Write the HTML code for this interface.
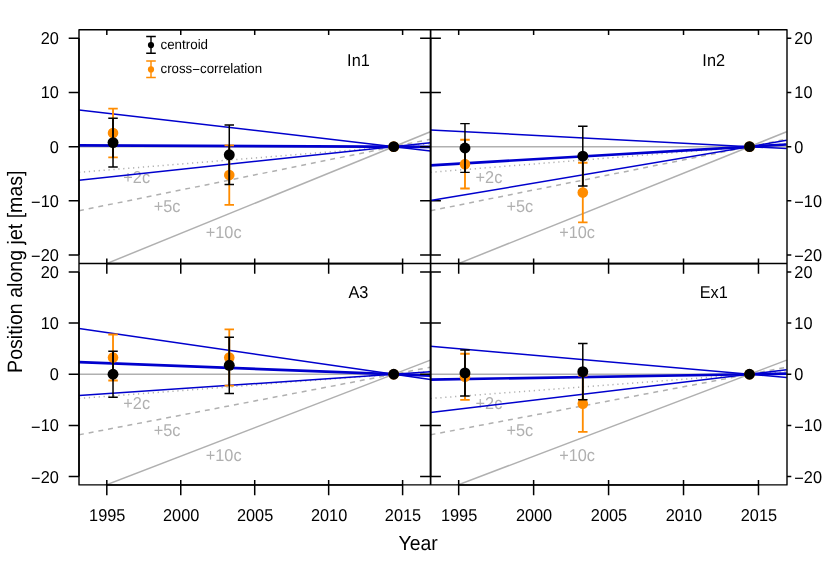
<!DOCTYPE html>
<html><head><meta charset="utf-8"><title>plot</title>
<style>html,body{margin:0;padding:0;background:#fff}svg{display:block;font-family:"Liberation Sans",sans-serif;text-rendering:geometricPrecision;will-change:transform}</style>
</head><body>
<svg width="830" height="564" viewBox="0 0 830 564">
<rect width="830" height="564" fill="#fff"/>
<defs>
<clipPath id="c0"><rect x="79.0" y="29.8" width="351.5" height="233.8"/></clipPath>
<clipPath id="c1"><rect x="430.5" y="29.8" width="356.5" height="233.8"/></clipPath>
<clipPath id="c2"><rect x="79.0" y="263.6" width="351.5" height="221.29999999999995"/></clipPath>
<clipPath id="c3"><rect x="430.5" y="263.6" width="356.5" height="221.29999999999995"/></clipPath>
</defs>
<g clip-path="url(#c0)">
<line x1="79.0" x2="430.5" y1="146.65" y2="146.65" stroke="#b0b0b0" stroke-width="1.5"/>
<line x1="79.00" y1="274.85" x2="430.41" y2="131.71" stroke="#b0b0b0" stroke-width="1.5"/>
<line x1="79.00" y1="210.75" x2="430.41" y2="139.18" stroke="#b0b0b0" stroke-width="1.5" stroke-dasharray="4.93 4.93"/>
<line x1="79.00" y1="172.29" x2="430.41" y2="143.66" stroke="#b0b0b0" stroke-width="1.5" stroke-dasharray="1.23 3.7"/>
<text transform="translate(136.68 182.89) scale(1.02 1.07)" font-size="16" text-anchor="middle" fill="#b0b0b0">+2c</text>
<text transform="translate(167.15 211.87) scale(1.02 1.07)" font-size="16" text-anchor="middle" fill="#b0b0b0">+5c</text>
<text transform="translate(223.65 238.42) scale(1.02 1.07)" font-size="16" text-anchor="middle" fill="#b0b0b0">+10c</text>
<line x1="79.00" y1="109.92" x2="430.41" y2="150.93" stroke="#0000cd" stroke-width="1.5"/>
<line x1="79.00" y1="145.30" x2="430.41" y2="146.81" stroke="#0000cd" stroke-width="2.7"/>
<line x1="79.00" y1="180.24" x2="430.41" y2="142.74" stroke="#0000cd" stroke-width="1.5"/>
<g stroke="#ff8c00" stroke-width="1.85" fill="none"><path d="M113.02 108.62V157.38" stroke-width="1.85"/><path d="M108.27 108.62H117.77M108.27 157.38H117.77"/></g><circle cx="113.02" cy="133.00" r="5.3" fill="#ff8c00"/>
<g stroke="#ff8c00" stroke-width="1.85" fill="none"><path d="M229.27 145.30V204.89" stroke-width="1.85"/><path d="M224.52 145.30H234.02M224.52 204.89H234.02"/></g><circle cx="229.27" cy="175.09" r="5.3" fill="#ff8c00"/>
<circle cx="393.73" cy="146.65" r="5.3" fill="#ff8c00"/>
<path d="M113.02 118.21V157.38" stroke="#1c0f00" stroke-width="1.75" fill="none"/>
<g stroke="#000" stroke-width="1.45" fill="none"><path d="M113.02 118.21V166.97" stroke-width="1.5"/><path d="M108.27 118.21H117.77M108.27 166.97H117.77"/></g><circle cx="113.02" cy="142.59" r="5.45" fill="#000"/>
<path d="M229.27 145.30V184.57" stroke="#1c0f00" stroke-width="1.75" fill="none"/>
<g stroke="#000" stroke-width="1.45" fill="none"><path d="M229.27 124.98V184.57" stroke-width="1.5"/><path d="M224.52 124.98H234.02M224.52 184.57H234.02"/></g><circle cx="229.27" cy="154.78" r="5.45" fill="#000"/>
<circle cx="393.73" cy="146.65" r="5.45" fill="#000"/>
</g>
<text transform="translate(358.45 66.07) scale(1.02 1.07)" font-size="16" text-anchor="middle">In1</text>
<path d="M430.5 255.00H440.9M430.5 200.83H440.9M430.5 92.47H440.9M430.5 38.30H440.9" stroke="#000" stroke-width="1.5" fill="none"/>
<g clip-path="url(#c1)">
<line x1="430.5" x2="787.0" y1="146.65" y2="146.65" stroke="#b0b0b0" stroke-width="1.5"/>
<line x1="430.50" y1="274.85" x2="786.66" y2="131.71" stroke="#b0b0b0" stroke-width="1.5"/>
<line x1="430.50" y1="210.75" x2="786.66" y2="139.18" stroke="#b0b0b0" stroke-width="1.5" stroke-dasharray="4.93 4.93"/>
<line x1="430.50" y1="172.29" x2="786.66" y2="143.66" stroke="#b0b0b0" stroke-width="1.5" stroke-dasharray="1.23 3.7"/>
<text transform="translate(488.96 182.89) scale(1.02 1.07)" font-size="16" text-anchor="middle" fill="#b0b0b0">+2c</text>
<text transform="translate(519.84 211.87) scale(1.02 1.07)" font-size="16" text-anchor="middle" fill="#b0b0b0">+5c</text>
<text transform="translate(577.10 238.42) scale(1.02 1.07)" font-size="16" text-anchor="middle" fill="#b0b0b0">+10c</text>
<line x1="430.50" y1="129.96" x2="786.66" y2="148.59" stroke="#0000cd" stroke-width="1.5"/>
<line x1="430.50" y1="165.29" x2="786.66" y2="144.48" stroke="#0000cd" stroke-width="2.7"/>
<line x1="430.50" y1="200.61" x2="786.66" y2="140.36" stroke="#0000cd" stroke-width="1.5"/>
<g stroke="#ff8c00" stroke-width="1.85" fill="none"><path d="M464.98 139.77V188.53" stroke-width="1.85"/><path d="M460.23 139.77H469.73M460.23 188.53H469.73"/></g><circle cx="464.98" cy="164.15" r="5.3" fill="#ff8c00"/>
<g stroke="#ff8c00" stroke-width="1.85" fill="none"><path d="M582.80 162.79V222.39" stroke-width="1.85"/><path d="M578.05 162.79H587.55M578.05 222.39H587.55"/></g><circle cx="582.80" cy="192.59" r="5.3" fill="#ff8c00"/>
<circle cx="749.49" cy="146.65" r="5.3" fill="#ff8c00"/>
<path d="M464.98 139.77V172.38" stroke="#1c0f00" stroke-width="1.75" fill="none"/>
<g stroke="#000" stroke-width="1.45" fill="none"><path d="M464.98 123.63V172.38" stroke-width="1.5"/><path d="M460.23 123.63H469.73M460.23 172.38H469.73"/></g><circle cx="464.98" cy="148.00" r="5.45" fill="#000"/>
<path d="M582.80 162.79V185.93" stroke="#1c0f00" stroke-width="1.75" fill="none"/>
<g stroke="#000" stroke-width="1.45" fill="none"><path d="M582.80 126.33V185.93" stroke-width="1.5"/><path d="M578.05 126.33H587.55M578.05 185.93H587.55"/></g><circle cx="582.80" cy="156.13" r="5.45" fill="#000"/>
<circle cx="749.49" cy="146.65" r="5.45" fill="#000"/>
</g>
<text transform="translate(713.71 66.07) scale(1.02 1.07)" font-size="16" text-anchor="middle">In2</text>
<g clip-path="url(#c2)">
<line x1="79.0" x2="430.5" y1="374.25" y2="374.25" stroke="#b0b0b0" stroke-width="1.5"/>
<line x1="79.00" y1="495.35" x2="430.41" y2="360.14" stroke="#b0b0b0" stroke-width="1.5"/>
<line x1="79.00" y1="434.80" x2="430.41" y2="367.19" stroke="#b0b0b0" stroke-width="1.5" stroke-dasharray="4.93 4.93"/>
<line x1="79.00" y1="398.47" x2="430.41" y2="371.43" stroke="#b0b0b0" stroke-width="1.5" stroke-dasharray="1.23 3.7"/>
<text transform="translate(136.68 408.81) scale(1.02 1.07)" font-size="16" text-anchor="middle" fill="#b0b0b0">+2c</text>
<text transform="translate(167.15 436.19) scale(1.02 1.07)" font-size="16" text-anchor="middle" fill="#b0b0b0">+5c</text>
<text transform="translate(223.65 461.26) scale(1.02 1.07)" font-size="16" text-anchor="middle" fill="#b0b0b0">+10c</text>
<line x1="79.00" y1="328.60" x2="430.41" y2="379.57" stroke="#0000cd" stroke-width="1.5"/>
<line x1="79.00" y1="362.12" x2="430.41" y2="375.66" stroke="#0000cd" stroke-width="2.7"/>
<line x1="79.00" y1="395.59" x2="430.41" y2="371.76" stroke="#0000cd" stroke-width="1.5"/>
<g stroke="#ff8c00" stroke-width="1.85" fill="none"><path d="M113.02 334.49V380.54" stroke-width="1.85"/><path d="M108.27 334.49H117.77M108.27 380.54H117.77"/></g><circle cx="113.02" cy="357.52" r="5.3" fill="#ff8c00"/>
<g stroke="#ff8c00" stroke-width="1.85" fill="none"><path d="M229.27 329.37V385.66" stroke-width="1.85"/><path d="M224.52 329.37H234.02M224.52 385.66H234.02"/></g><circle cx="229.27" cy="357.52" r="5.3" fill="#ff8c00"/>
<circle cx="393.73" cy="374.25" r="5.3" fill="#ff8c00"/>
<path d="M113.02 351.22V380.54" stroke="#1c0f00" stroke-width="1.75" fill="none"/>
<g stroke="#000" stroke-width="1.45" fill="none"><path d="M113.02 351.22V397.28" stroke-width="1.5"/><path d="M108.27 351.22H117.77M108.27 397.28H117.77"/></g><circle cx="113.02" cy="374.25" r="5.45" fill="#000"/>
<path d="M229.27 337.15V385.66" stroke="#1c0f00" stroke-width="1.75" fill="none"/>
<g stroke="#000" stroke-width="1.45" fill="none"><path d="M229.27 337.15V393.44" stroke-width="1.5"/><path d="M224.52 337.15H234.02M224.52 393.44H234.02"/></g><circle cx="229.27" cy="365.29" r="5.45" fill="#000"/>
<circle cx="393.73" cy="374.25" r="5.45" fill="#000"/>
</g>
<text transform="translate(358.45 298.07) scale(1.02 1.07)" font-size="16" text-anchor="middle">A3</text>
<path d="M430.5 476.60H440.9M430.5 425.43H440.9M430.5 323.07H440.9M430.5 271.90H440.9" stroke="#000" stroke-width="1.5" fill="none"/>
<g clip-path="url(#c3)">
<line x1="430.5" x2="787.0" y1="374.25" y2="374.25" stroke="#b0b0b0" stroke-width="1.5"/>
<line x1="430.50" y1="495.35" x2="786.66" y2="360.14" stroke="#b0b0b0" stroke-width="1.5"/>
<line x1="430.50" y1="434.80" x2="786.66" y2="367.19" stroke="#b0b0b0" stroke-width="1.5" stroke-dasharray="4.93 4.93"/>
<line x1="430.50" y1="398.47" x2="786.66" y2="371.43" stroke="#b0b0b0" stroke-width="1.5" stroke-dasharray="1.23 3.7"/>
<text transform="translate(488.96 408.81) scale(1.02 1.07)" font-size="16" text-anchor="middle" fill="#b0b0b0">+2c</text>
<text transform="translate(519.84 436.19) scale(1.02 1.07)" font-size="16" text-anchor="middle" fill="#b0b0b0">+5c</text>
<text transform="translate(577.10 461.26) scale(1.02 1.07)" font-size="16" text-anchor="middle" fill="#b0b0b0">+10c</text>
<line x1="430.50" y1="346.26" x2="786.66" y2="377.51" stroke="#0000cd" stroke-width="1.5"/>
<line x1="430.50" y1="379.57" x2="786.66" y2="373.63" stroke="#0000cd" stroke-width="2.7"/>
<line x1="430.50" y1="412.53" x2="786.66" y2="369.79" stroke="#0000cd" stroke-width="1.5"/>
<g stroke="#ff8c00" stroke-width="1.85" fill="none"><path d="M464.98 353.78V399.84" stroke-width="1.85"/><path d="M460.23 353.78H469.73M460.23 399.84H469.73"/></g><circle cx="464.98" cy="376.81" r="5.3" fill="#ff8c00"/>
<g stroke="#ff8c00" stroke-width="1.85" fill="none"><path d="M582.80 375.63V431.92" stroke-width="1.85"/><path d="M578.05 375.63H587.55M578.05 431.92H587.55"/></g><circle cx="582.80" cy="403.78" r="5.3" fill="#ff8c00"/>
<circle cx="749.49" cy="374.25" r="5.3" fill="#ff8c00"/>
<path d="M464.98 353.78V396.00" stroke="#1c0f00" stroke-width="1.75" fill="none"/>
<g stroke="#000" stroke-width="1.45" fill="none"><path d="M464.98 349.94V396.00" stroke-width="1.5"/><path d="M460.23 349.94H469.73M460.23 396.00H469.73"/></g><circle cx="464.98" cy="372.97" r="5.45" fill="#000"/>
<path d="M582.80 375.63V399.84" stroke="#1c0f00" stroke-width="1.75" fill="none"/>
<g stroke="#000" stroke-width="1.45" fill="none"><path d="M582.80 343.55V399.84" stroke-width="1.5"/><path d="M578.05 343.55H587.55M578.05 399.84H587.55"/></g><circle cx="582.80" cy="371.69" r="5.45" fill="#000"/>
<circle cx="749.49" cy="374.25" r="5.45" fill="#000"/>
</g>
<text transform="translate(713.71 298.07) scale(1.02 1.07)" font-size="16" text-anchor="middle">Ex1</text>
<g stroke="#000" stroke-width="1.5" fill="none" stroke-linecap="butt">
<rect x="79.0" y="29.8" width="708.0" height="455.09999999999997" stroke-width="1.4" stroke-linejoin="round"/>
<path d="M79.0 263.6H787.0" stroke-width="1.5"/>
<path d="M430.6 29.8V484.9" stroke-width="1.7"/>
<path d="M79.0 38.30V255.00M430.6 38.30V255.00M79.0 271.90V476.60M430.6 271.90V476.60M106.81 29.8H402.61M106.81 263.6H402.61M106.81 484.9H402.61M458.68 29.8H758.48M458.68 263.6H758.48M458.68 484.9H758.48" stroke-width="1.55"/>
<path d="M106.81 29.8V35.00M106.81 258.40V273.80M106.81 479.90V495.20M180.76 29.8V35.00M180.76 258.40V273.80M180.76 479.90V495.20M254.71 29.8V35.00M254.71 258.40V273.80M254.71 479.90V495.20M328.66 29.8V35.00M328.66 258.40V273.80M328.66 479.90V495.20M402.61 29.8V35.00M402.61 258.40V273.80M402.61 479.90V495.20M458.68 29.8V35.00M458.68 258.40V273.80M458.68 479.90V495.20M533.63 29.8V35.00M533.63 258.40V273.80M533.63 479.90V495.20M608.58 29.8V35.00M608.58 258.40V273.80M608.58 479.90V495.20M683.53 29.8V35.00M683.53 258.40V273.80M683.53 479.90V495.20M758.48 29.8V35.00M758.48 258.40V273.80M758.48 479.90V495.20M68.7 255.00H79.0M420.1 255.00H430.5M787.0 255.00H791.3M68.7 200.83H79.0M420.1 200.83H430.5M787.0 200.83H791.3M68.7 146.65H79.0M420.1 146.65H430.5M787.0 146.65H791.3M68.7 92.47H79.0M420.1 92.47H430.5M787.0 92.47H791.3M68.7 38.30H79.0M420.1 38.30H430.5M787.0 38.30H791.3M68.7 476.60H79.0M420.1 476.60H430.5M787.0 476.60H791.3M68.7 425.43H79.0M420.1 425.43H430.5M787.0 425.43H791.3M68.7 374.25H79.0M420.1 374.25H430.5M787.0 374.25H791.3M68.7 323.07H79.0M420.1 323.07H430.5M787.0 323.07H791.3M68.7 271.90H79.0M420.1 271.90H430.5M787.0 271.90H791.3"/>
</g>
<text transform="translate(58.80 261.00) scale(1.02 1.07)" font-size="16" text-anchor="end"><tspan dy="1.3">−</tspan><tspan dy="-1.3">20</tspan></text>
<text transform="translate(794.30 261.00) scale(1.02 1.07)" font-size="16"><tspan dy="1.3">−</tspan><tspan dy="-1.3">20</tspan></text>
<text transform="translate(58.80 206.83) scale(1.02 1.07)" font-size="16" text-anchor="end"><tspan dy="1.3">−</tspan><tspan dy="-1.3">10</tspan></text>
<text transform="translate(794.30 206.83) scale(1.02 1.07)" font-size="16"><tspan dy="1.3">−</tspan><tspan dy="-1.3">10</tspan></text>
<text transform="translate(58.80 152.65) scale(1.02 1.07)" font-size="16" text-anchor="end">0</text>
<text transform="translate(794.30 152.65) scale(1.02 1.07)" font-size="16">0</text>
<text transform="translate(58.80 98.47) scale(1.02 1.07)" font-size="16" text-anchor="end">10</text>
<text transform="translate(794.30 98.47) scale(1.02 1.07)" font-size="16">10</text>
<text transform="translate(58.80 44.30) scale(1.02 1.07)" font-size="16" text-anchor="end">20</text>
<text transform="translate(794.30 44.30) scale(1.02 1.07)" font-size="16">20</text>
<text transform="translate(58.80 482.60) scale(1.02 1.07)" font-size="16" text-anchor="end"><tspan dy="1.3">−</tspan><tspan dy="-1.3">20</tspan></text>
<text transform="translate(794.30 482.60) scale(1.02 1.07)" font-size="16"><tspan dy="1.3">−</tspan><tspan dy="-1.3">20</tspan></text>
<text transform="translate(58.80 431.43) scale(1.02 1.07)" font-size="16" text-anchor="end"><tspan dy="1.3">−</tspan><tspan dy="-1.3">10</tspan></text>
<text transform="translate(794.30 431.43) scale(1.02 1.07)" font-size="16"><tspan dy="1.3">−</tspan><tspan dy="-1.3">10</tspan></text>
<text transform="translate(58.80 380.25) scale(1.02 1.07)" font-size="16" text-anchor="end">0</text>
<text transform="translate(794.30 380.25) scale(1.02 1.07)" font-size="16">0</text>
<text transform="translate(58.80 329.07) scale(1.02 1.07)" font-size="16" text-anchor="end">10</text>
<text transform="translate(794.30 329.07) scale(1.02 1.07)" font-size="16">10</text>
<text transform="translate(58.80 277.90) scale(1.02 1.07)" font-size="16" text-anchor="end">20</text>
<text transform="translate(794.30 277.90) scale(1.02 1.07)" font-size="16">20</text>
<text transform="translate(107.21 520.60) scale(1.02 1.07)" font-size="16" text-anchor="middle">1995</text>
<text transform="translate(181.16 520.60) scale(1.02 1.07)" font-size="16" text-anchor="middle">2000</text>
<text transform="translate(255.11 520.60) scale(1.02 1.07)" font-size="16" text-anchor="middle">2005</text>
<text transform="translate(329.06 520.60) scale(1.02 1.07)" font-size="16" text-anchor="middle">2010</text>
<text transform="translate(403.01 520.60) scale(1.02 1.07)" font-size="16" text-anchor="middle">2015</text>
<text transform="translate(459.08 520.60) scale(1.02 1.07)" font-size="16" text-anchor="middle">1995</text>
<text transform="translate(534.03 520.60) scale(1.02 1.07)" font-size="16" text-anchor="middle">2000</text>
<text transform="translate(608.98 520.60) scale(1.02 1.07)" font-size="16" text-anchor="middle">2005</text>
<text transform="translate(683.93 520.60) scale(1.02 1.07)" font-size="16" text-anchor="middle">2010</text>
<text transform="translate(758.88 520.60) scale(1.02 1.07)" font-size="16" text-anchor="middle">2015</text>
<text transform="translate(418.20 549.70) scale(0.97 1.026)" font-size="20" text-anchor="middle">Year</text>
<text transform="translate(22.00 271.70) rotate(-90) scale(0.979 1.04)" font-size="20" text-anchor="middle">Position along jet [mas]</text>
<g stroke="#000" stroke-width="1.4"><path d="M151.0 36.5V53.2M146.2 36.5H155.8M146.2 53.2H155.8"/></g><circle cx="151.0" cy="45.1" r="3.1"/>
<g stroke="#ff8c00" stroke-width="1.45"><path d="M151.0 60.9V77.5M146.2 60.9H155.8M146.2 77.5H155.8"/></g><circle cx="151.0" cy="69.4" r="3.1" fill="#ff8c00"/>
<text transform="translate(160.50 48.80) scale(1.028 1.05)" font-size="13">centroid</text>
<text transform="translate(160.50 72.70) scale(1.022 1.05)" font-size="13">cross<tspan dy="1">−</tspan><tspan dy="-1">correlation</tspan></text>
</svg>
</body></html>
